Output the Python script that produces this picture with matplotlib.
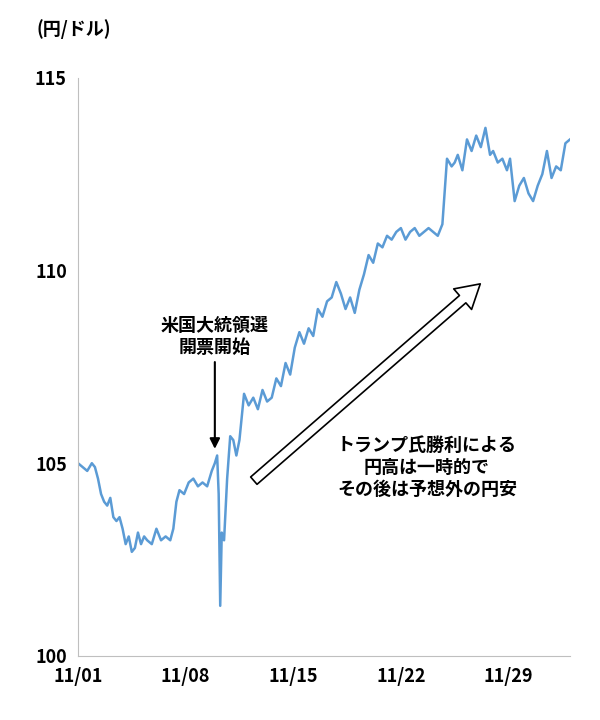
import matplotlib.pyplot as plt
import numpy as np

plt.rcParams['font.family'] = ['Noto Sans CJK JP', 'DejaVu Sans']

# days since 11/01 and USD/JPY values
days = [0.0, 0.3, 0.6, 0.9, 1.1, 1.3, 1.5, 1.7, 1.9, 2.1, 2.3, 2.5, 2.7, 2.9, 3.1,
        3.3, 3.5, 3.7, 3.9, 4.1, 4.3, 4.5, 4.8, 5.1, 5.4, 5.7, 6.0, 6.2, 6.4, 6.6,
        6.9, 7.2, 7.5, 7.8, 8.1, 8.4, 8.7, 8.9, 9.05, 9.15, 9.25, 9.35, 9.5, 9.7,
        9.9, 10.1, 10.3, 10.5, 10.8, 11.1, 11.4, 11.7, 12.0, 12.3, 12.6, 12.9,
        13.2, 13.5, 13.8, 14.1, 14.4, 14.7, 15.0, 15.3, 15.6, 15.9, 16.2, 16.5,
        16.8, 17.1, 17.4, 17.7, 18.0, 18.3, 18.6, 18.9, 19.2, 19.5, 19.8, 20.1,
        20.4, 20.7, 21.0, 21.3, 21.6, 21.9, 22.2, 22.5, 22.8, 23.1, 23.4, 23.7,
        24.0, 24.3, 24.5, 24.7, 25.0, 25.3, 25.6, 25.9, 26.2, 26.5, 26.8, 27.0,
        27.3, 27.6, 27.9, 28.1, 28.4, 28.7, 29.0, 29.3, 29.6, 29.9, 30.2, 30.5,
        30.8, 31.1, 31.4, 31.7, 32.0]
values = [105.0, 104.9, 104.8, 105.0, 104.9, 104.6, 104.2, 104.0, 103.9, 104.1,
          103.6, 103.5, 103.6, 103.3, 102.9, 103.1, 102.7, 102.8, 103.2, 102.9,
          103.1, 103.0, 102.9, 103.3, 103.0, 103.1, 103.0, 103.3, 104.0, 104.3,
          104.2, 104.5, 104.6, 104.4, 104.5, 104.4, 104.8, 105.0, 105.2, 104.2,
          101.3, 103.2, 103.0, 104.6, 105.7, 105.6, 105.2, 105.6, 106.8, 106.5,
          106.7, 106.4, 106.9, 106.6, 106.7, 107.2, 107.0, 107.6, 107.3, 108.0,
          108.4, 108.1, 108.5, 108.3, 109.0, 108.8, 109.2, 109.3, 109.7, 109.4,
          109.0, 109.3, 108.9, 109.5, 109.9, 110.4, 110.2, 110.7, 110.6, 110.9,
          110.8, 111.0, 111.1, 110.8, 111.0, 111.1, 110.9, 111.0,
          111.1, 111.0, 110.9, 111.2, 112.9, 112.7, 112.8, 113.0, 112.6, 113.4,
          113.1, 113.5, 113.2, 113.7, 113.0, 113.1, 112.8, 112.9, 112.6, 112.9,
          111.8, 112.2, 112.4, 112.0, 111.8, 112.2, 112.5, 113.1, 112.4, 112.7,
          112.6, 113.3, 113.4]

x_ticks = [0, 7, 14, 21, 28]
x_labels = ['11/01', '11/08', '11/15', '11/22', '11/29']

fig = plt.figure(figsize=(6, 7.2), dpi=100)
ax = fig.add_axes([0.13, 0.089, 0.82, 0.803])
ax.plot(days, values, color='#5b9bd5', lw=1.8)

ax.set_xlim(0, 32)
ax.set_ylim(100, 115)
ax.set_yticks([100, 105, 110, 115])
ax.set_xticks(x_ticks)
ax.set_xticklabels(x_labels)
ax.tick_params(labelsize=13, length=0, pad=8)
for lab in ax.get_xticklabels() + ax.get_yticklabels():
    lab.set_fontweight('bold')
for s in ['top', 'right']:
    ax.spines[s].set_visible(False)
for s in ['left', 'bottom']:
    ax.spines[s].set_color('#bfbfbf')

fig.text(0.06, 0.952, '(円/ドル)', fontsize=13, fontweight='bold')

ax.annotate('米国大統領選\n開票開始', xy=(8.9, 105.3), xytext=(8.9, 108.3),
            ha='center', va='center', fontsize=13, fontweight='bold',
            arrowprops=dict(arrowstyle='-|>', color='black', lw=1.5, mutation_scale=15))
ax.annotate('', xy=(26.3, 109.7), xytext=(11.3, 104.5),
            arrowprops=dict(arrowstyle='simple,head_length=1.2,head_width=1.4,tail_width=0.5',
                            facecolor='white', edgecolor='black', lw=1.2, mutation_scale=14))
ax.text(22.7, 104.9, 'トランプ氏勝利による\n円高は一時的で\nその後は予想外の円安',
        ha='center', va='center', fontsize=13, fontweight='bold', linespacing=1.2)

fig.savefig('out.png', dpi=100)
